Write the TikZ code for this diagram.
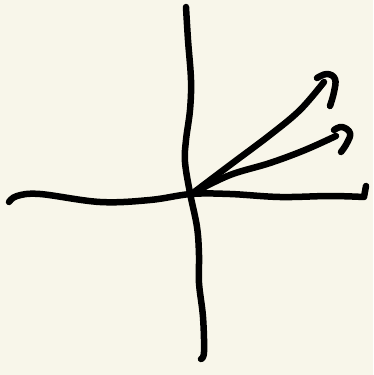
\documentclass[tikz,border=0pt]{standalone}
\definecolor{paper}{HTML}{F8F6EA}
\tikzset{ink/.style={line width=6.5pt,line cap=round,line join=round,black}}
\begin{document}
\begin{tikzpicture}[x=1pt,y=-1pt]
\fill[paper] (0,0) rectangle (373,375);
\useasboundingbox (0,0) rectangle (373,375);
% vertical axis
\draw[ink] plot[smooth,tension=0.6] coordinates {(186,7) (188,40) (191,80) (190,110) (186,140) (185,162) (190,193) (197,227) (199,255) (199,283) (203,317) (204,352) (201,359)};
% horizontal axis
\draw[ink] plot[smooth,tension=0.6] coordinates {(9,202) (17,196) (40,194) (100,202) (150,200) (191,194) (230,194) (280,197) (330,196) (364,197)} -- (366,186);
% vector 1
\draw[ink] plot[smooth,tension=0.6] coordinates {(193,193) (230,165) (270,135) (300,110) (324,82)};
\draw[ink] plot[smooth,tension=0.7] coordinates {(317,78) (327,74) (335,79) (334,92) (330,106)};
% vector 2
\draw[ink] plot[smooth,tension=0.6] coordinates {(195,192) (230,175) (270,163) (305,150) (336,136)};
\draw[ink] plot[smooth,tension=0.7] coordinates {(334,130) (342,127) (350,133) (347,143) (341,152)};
\end{tikzpicture}
\end{document}
